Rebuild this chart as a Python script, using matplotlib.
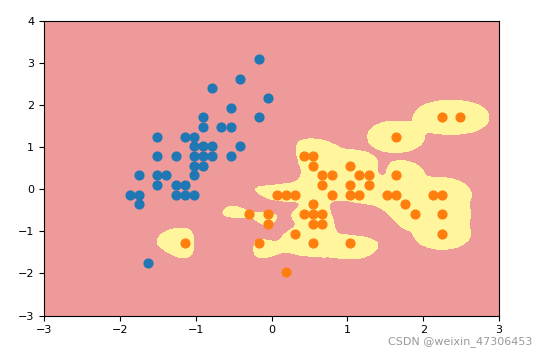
import numpy as np
import matplotlib
matplotlib.use("Agg")
import matplotlib.pyplot as plt
from matplotlib.colors import ListedColormap

# standardized points
blue_x = [-0.17, -0.42, -0.78, -0.05, -0.54, -0.17, -0.90, -0.90, -0.66, -0.54,
          -1.51, -1.14, -1.02, -0.42, -1.02, -0.90, -0.78, -1.51, -1.26, -1.02,
          -0.90, -0.78, -0.54, -1.02, -0.90, -1.75, -1.51, -1.39, -1.02, -1.51,
          -1.26, -1.14, -1.87, -1.75, -1.26, -1.14, -1.02, -1.75, -1.63]
blue_y = [3.09, 2.63, 2.40, 2.17, 1.94, 1.71, 1.71, 1.48, 1.48, 1.48,
          1.25, 1.25, 1.25, 1.02, 1.02, 1.02, 1.02, 0.79, 0.79, 0.79,
          0.79, 0.79, 0.79, 0.56, 0.56, 0.33, 0.33, 0.33, 0.33, 0.10,
          0.10, 0.10, -0.13, -0.13, -0.13, -0.13, -0.13, -0.36, -1.74]

orange_x = [-1.14, -0.30, -0.05, -0.05, -0.17, 0.07, 0.43, 0.55, 0.55, 1.04,
            0.67, 0.80, 1.16, 1.28, 0.67, 1.04, 1.28, 0.19, 0.31, 0.80,
            1.04, 1.16, 0.55, 0.43, 0.55, 0.67, 0.55, 0.67, 0.31, 0.55,
            1.04, 0.19, 2.25, 2.49, 1.64, 1.64, 1.52, 1.64, 2.13, 2.25,
            1.76, 1.89, 2.25, 2.25]
orange_y = [-1.28, -0.59, -0.59, -0.82, -1.28, -0.13, 0.79, 0.79, 0.56, 0.56,
            0.33, 0.33, 0.33, 0.33, 0.10, 0.10, 0.10, -0.13, -0.13, -0.13,
            -0.13, -0.13, -0.36, -0.59, -0.59, -0.59, -0.82, -0.82, -1.05, -1.28,
            -1.28, -1.97, 1.71, 1.71, 1.25, 0.33, -0.13, -0.13, -0.13, -0.13,
            -0.36, -0.59, -0.59, -1.05]

# pink pockets inside the yellow area (training points that are not drawn)
hole_x = [-0.90, -0.17, -0.30, -0.17, 0.07, 0.31, -0.05, 0.19,
          -0.42, 0.92, 0.92, 1.16, 1.28, 1.04, 0.07, 0.19, 0.19, 1.40,
          0.19, 0.43]
hole_y = [-1.28, -0.59, -0.82, -0.36, -0.36, -0.36, -1.05, -0.82,
          -1.28, -0.36, -0.59, -0.59, -0.82, -0.82, 0.33, 0.56, 0.79, 0.33,
          -1.97, -1.97]
hole_w = [1.0, 0.8, 1.0, 1.0, 1.0, 1.5, 1.0, 1.5,
          1.5, 1.5, 1.5, 1.5, 1.5, 1.5, 1.5, 1.5, 1.5, 1.5,
          1.5, 1.5]

axis = [-3, 3, -3, 4]
gamma = 20.0
thresh = 0.06


def kernel_sum(xx, yy, px, py, w=None):
    if w is None:
        w = [1.0] * len(px)
    s = np.zeros(xx.shape)
    for a, b, k in zip(px, py, w):
        s += k * np.exp(-gamma * ((xx - a) ** 2 + (yy - b) ** 2))
    return s


def decision(xx, yy):
    return (kernel_sum(xx, yy, orange_x, orange_y)
            - kernel_sum(xx, yy, blue_x, blue_y)
            - kernel_sum(xx, yy, hole_x, hole_y, hole_w) - thresh)


x0, x1 = np.meshgrid(
    np.linspace(axis[0], axis[1], int((axis[1] - axis[0]) * 100)),
    np.linspace(axis[2], axis[3], int((axis[3] - axis[2]) * 100)))
zz = (decision(x0, x1) > 0).astype(int)

fig = plt.figure(figsize=(5.46, 3.51), dpi=100)
ax = fig.add_axes([0.0806, 0.101, 0.8334, 0.839])
ax.contourf(x0, x1, zz, levels=[-0.5, 0.5, 1.5],
            cmap=ListedColormap(['#EF9A9A', '#FFF59D']))
ax.scatter(blue_x, blue_y, color='#1f77b4', s=40)
ax.scatter(orange_x, orange_y, color='#ff7f0e', s=40)
ax.set_xlim(axis[0], axis[1])
ax.set_ylim(axis[2], axis[3])
ax.tick_params(labelsize=8)

fig.text(0.975, 0.026, "CSDN @weixin_47306453", ha='right', va='center',
         fontsize=8, color='#999999')

fig.savefig("out.png", dpi=100)
